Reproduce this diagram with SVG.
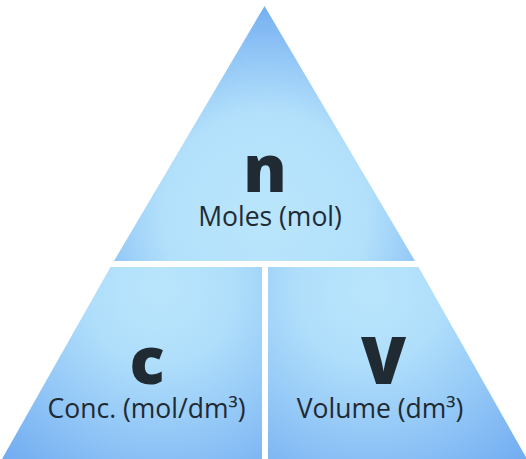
<svg xmlns="http://www.w3.org/2000/svg" width="526" height="459" viewBox="0 0 526 459">
<defs>
<radialGradient id="gTop" cx="265" cy="215" r="230" gradientUnits="userSpaceOnUse">
<stop offset="0" stop-color="#bae6fc"/>
<stop offset="0.45" stop-color="#b2e0fb"/>
<stop offset="1" stop-color="#6aa6f0"/>
</radialGradient>
<radialGradient id="gL" cx="160" cy="290" r="250" gradientUnits="userSpaceOnUse">
<stop offset="0" stop-color="#bae6fc"/>
<stop offset="0.3" stop-color="#afdefb"/>
<stop offset="1" stop-color="#6aa6f0"/>
</radialGradient>
<radialGradient id="gR" cx="370" cy="290" r="250" gradientUnits="userSpaceOnUse">
<stop offset="0" stop-color="#bae6fc"/>
<stop offset="0.3" stop-color="#afdefb"/>
<stop offset="1" stop-color="#6aa6f0"/>
</radialGradient>
</defs>
<style>
.sym{font-family:"Open Sans","Noto Sans",sans-serif;font-weight:800;font-size:65px;fill:#1f2a33;text-anchor:middle}
.lbl{font-family:"Open Sans","Noto Sans",sans-serif;font-weight:400;font-size:26.5px;fill:#1f2a33;text-anchor:middle}
</style>
<rect width="526" height="459" fill="#ffffff"/>
<g id="moles">
<polygon points="264.5,6 415,261 114,261" fill="url(#gTop)"/>
<text class="sym" x="265" y="192">n</text>
<text class="lbl" x="270" y="226">Moles (mol)</text>
</g>
<g id="conc">
<polygon points="110.5,267 262,267 262,459 2,459" fill="url(#gL)"/>
<text class="sym" x="147" y="384">c</text>
<text class="lbl" x="146.5" y="418">Conc. (mol/dm³)</text>
</g>
<g id="volume">
<polygon points="268,267 418.5,267 527,459 268,459" fill="url(#gR)"/>
<text class="sym" x="383.5" y="384">V</text>
<text class="lbl" x="380" y="418">Volume (dm³)</text>
</g>
<g id="connectors"></g>
</svg>
